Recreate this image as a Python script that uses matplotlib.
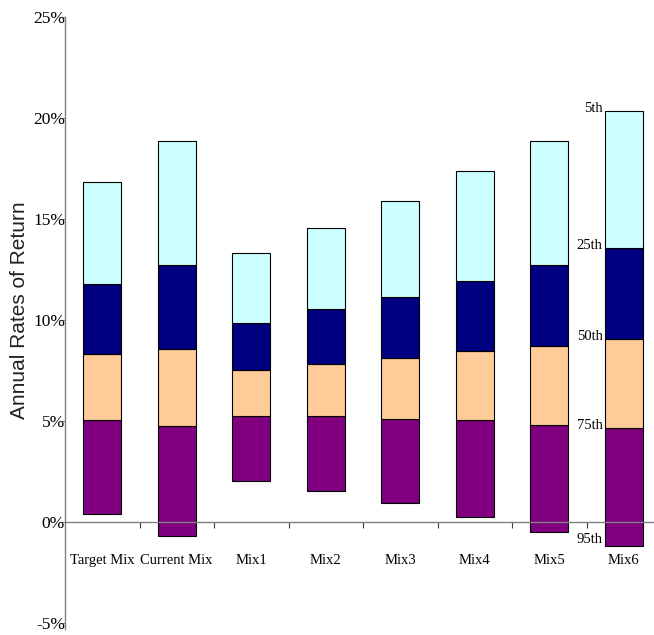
import matplotlib
matplotlib.use("Agg")
import matplotlib.pyplot as plt
import numpy as np

# Simulated annual return ranges by portfolio mix (percent)
categories = ["Target Mix", "Current Mix", "Mix1", "Mix2", "Mix3", "Mix4", "Mix5", "Mix6"]
pct_95 = [0.41, -0.69, 2.05, 1.53, 0.93, 0.23, -0.51, -1.17]
pct_75 = [5.03, 4.74, 5.25, 5.23, 5.10, 5.05, 4.82, 4.67]
pct_50 = [8.30, 8.58, 7.51, 7.84, 8.12, 8.45, 8.73, 9.06]
pct_25 = [11.77, 12.74, 9.84, 10.56, 11.15, 11.95, 12.74, 13.55]
pct_5 = [16.85, 18.85, 13.33, 14.54, 15.88, 17.36, 18.85, 20.36]
band_labels = ["5th", "25th", "50th", "75th", "95th"]
y_ticks = [-5, 0, 5, 10, 15, 20, 25]

colors = ["#800080", "#FFCC99", "#000080", "#CCFFFF"]

W, H = 654, 635
fig = plt.figure(figsize=(W / 100, H / 100), dpi=100)
fig.patch.set_facecolor("white")

left_px, right_px, top_px, bottom_px = 65, 661, 17, 629
ax = fig.add_axes([left_px / W, (H - bottom_px) / H,
                   (right_px - left_px) / W, (bottom_px - top_px) / H])

x = np.arange(len(categories))
edges = [pct_95, pct_75, pct_50, pct_25, pct_5]
for i, c in enumerate(colors):
    lo = np.array(edges[i])
    hi = np.array(edges[i + 1])
    ax.bar(x, hi - lo, bottom=lo, width=0.51, color=c,
           edgecolor="black", linewidth=0.8, zorder=1)

ax.set_xlim(-0.5, 7.5)
ax.set_ylim(-5.3, 25)

serif = ["Liberation Serif", "DejaVu Serif"]

# y axis
ax.set_yticks(y_ticks)
ax.set_yticklabels([f"{v}%" for v in y_ticks], fontfamily=serif, fontsize=12.5)
ax.tick_params(axis="y", direction="out", length=4, width=0.8,
               color="#808080", pad=-4)

# x axis along zero line
ax.spines["bottom"].set_position(("data", 0))
ax.spines["bottom"].set_zorder(3)
for s in ["top", "right"]:
    ax.spines[s].set_visible(False)
for s in ["left", "bottom"]:
    ax.spines[s].set_color("#808080")
    ax.spines[s].set_linewidth(1.0)

ax.set_xticks(x)
ax.set_xticklabels(categories, fontfamily=serif, fontsize=10.5)
ax.tick_params(axis="x", which="major", length=0, pad=23)
ax.set_xticks(np.arange(0.5, 7.0, 1.0), minor=True)
ax.tick_params(axis="x", which="minor", direction="out", length=4.5,
               width=0.8, color="#404040")

# percentile labels next to the last bar
last = len(categories) - 1
lx = last - 0.51 / 2 - 0.03
vals = [pct_5[last], pct_25[last], pct_50[last], pct_75[last]]
for lab, v in zip(band_labels[:4], vals):
    ax.text(lx, v + 0.12, lab, ha="right", va="center",
            fontfamily=serif, fontsize=10.5)
ax.text(lx, pct_95[last], band_labels[4], ha="right", va="bottom",
        fontfamily=serif, fontsize=10.5)

fig.text(20 / W, 1 - 310 / H, "Annual Rates of Return", rotation=90,
         ha="center", va="center", fontfamily=["Liberation Sans", "DejaVu Sans"],
         fontsize=15, color="#222222")

fig.savefig("out.png", dpi=100, facecolor="white")
